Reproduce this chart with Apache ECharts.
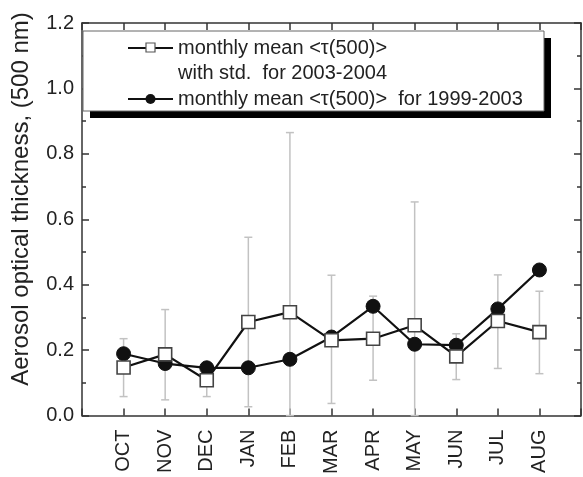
<!DOCTYPE html>
<html><head><meta charset="utf-8">
<script src="https://cdn.jsdelivr.net/npm/echarts@6/dist/echarts.min.js"></script>
<style>html,body{margin:0;padding:0;background:#fff}#c{width:583px;height:477px}</style>
</head><body><div id="c"></div>
<script>
const months = ['OCT','NOV','DEC','JAN','FEB','MAR','APR','MAY','JUN','JUL','AUG'];
const mean0304 = [0.147,0.187,0.108,0.286,0.316,0.230,0.235,0.276,0.181,0.289,0.255];
const stdUpper = [0.235,0.324,0.160,0.545,0.865,0.429,0.365,0.653,0.250,0.430,0.380];
const stdLower = [0.058,0.048,0.058,0.027,0.000,0.037,0.108,0.000,0.110,0.144,0.128];
const mean9903 = [0.189,0.159,0.146,0.146,0.172,0.240,0.334,0.218,0.215,0.326,0.445];
const yTicks = [0.0,0.2,0.4,0.6,0.8,1.0,1.2];
const yTitle = 'Aerosol optical thickness, (500 nm)';
const legendLines = ['monthly mean <\u03c4(500)>','with std.  for 2003-2004','monthly mean <\u03c4(500)>  for 1999-2003'];

const F = 'Liberation Sans, Arial, sans-serif';
const chart = echarts.init(document.getElementById('c'));
const axisLine = {show:true, onZero:false, lineStyle:{color:'#333', width:1.5}};
const tick = {inside:true, length:7, lineStyle:{color:'#333', width:1.5}};
const minor = {show:true, splitNumber:2, length:4, lineStyle:{color:'#333', width:1.5}};
const xPos = months.map((m,i)=>i+1);
const errData = months.map((m,i)=>[i+1, stdLower[i], stdUpper[i]]);

chart.setOption({
  animation:false,
  grid:{left:82, right:2, top:23, bottom:60},
  xAxis:[{
    type:'value', min:0, max:12, interval:1,
    axisLine, splitLine:{show:false},
    axisTick:tick,
    axisLabel:{rotate:90, fontFamily:F, fontSize:20, color:'#222', margin:14,
      formatter:v => (v>=1 && v<=11) ? months[v-1] : ''}
  },{
    type:'value', min:0, max:12, interval:1, position:'top',
    axisLine, splitLine:{show:false},
    axisTick:tick,
    axisLabel:{show:false}
  }],
  yAxis:[{
    type:'value', min:0, max:1.2, interval:0.2,
    axisLine, splitLine:{show:false},
    axisTick:tick, minorTick:minor,
    axisLabel:{fontFamily:F, fontSize:20, color:'#222', margin:8, formatter:v=>v.toFixed(1)}
  },{
    type:'value', min:0, max:1.2, interval:0.2, position:'right',
    axisLine, splitLine:{show:false},
    axisTick:tick, minorTick:minor,
    axisLabel:{show:false}
  }],
  series:[{
    type:'custom', z:1,
    data:errData,
    renderItem:(params, api) => {
      const x = api.value(0);
      const lo = api.coord([x, api.value(1)]);
      const hi = api.coord([x, api.value(2)]);
      const w = 4;
      const st = {stroke:'#c2c2c2', lineWidth:1.5};
      return {type:'group', children:[
        {type:'line', shape:{x1:lo[0], y1:lo[1], x2:hi[0], y2:hi[1]}, style:st},
        {type:'line', shape:{x1:hi[0]-w, y1:hi[1], x2:hi[0]+w, y2:hi[1]}, style:st},
        {type:'line', shape:{x1:lo[0]-w, y1:lo[1], x2:lo[0]+w, y2:lo[1]}, style:st}
      ]};
    }
  },{
    type:'line', z:3, data:xPos.map((x,i)=>[x, mean9903[i]]),
    symbol:'circle', symbolSize:14,
    lineStyle:{color:'#111', width:2.2},
    itemStyle:{color:'#111', borderColor:'#111'}
  },{
    type:'line', z:4, data:xPos.map((x,i)=>[x, mean0304[i]]),
    symbol:'rect', symbolSize:13,
    lineStyle:{color:'#111', width:2.2},
    itemStyle:{color:'#fff', borderColor:'#444', borderWidth:1.6}
  }],
  graphic:[
    {type:'text', x:21, y:199, rotation:Math.PI/2, style:{text:yTitle, font:'24px '+F, fill:'#222', align:'center', verticalAlign:'middle'}},
    {type:'rect', shape:{x:90, y:38, width:461, height:80}, style:{fill:'#000'}, z:10},
    {type:'rect', shape:{x:83, y:31, width:461, height:80}, style:{fill:'#fff', stroke:'#666', lineWidth:1}, z:11},
    {type:'line', shape:{x1:128, y1:48, x2:173, y2:48}, style:{stroke:'#111', lineWidth:2}, z:12},
    {type:'rect', shape:{x:146, y:43, width:9, height:9}, style:{fill:'#fff', stroke:'#555', lineWidth:1.2}, z:13},
    {type:'line', shape:{x1:128, y1:99, x2:173, y2:99}, style:{stroke:'#111', lineWidth:2}, z:12},
    {type:'circle', shape:{cx:150.5, cy:99, r:5}, style:{fill:'#111'}, z:13},
    {type:'text', x:178, y:48, style:{text:legendLines[0], font:'20px '+F, fill:'#222', verticalAlign:'middle'}, z:13},
    {type:'text', x:178, y:73, style:{text:legendLines[1], font:'20px '+F, fill:'#222', verticalAlign:'middle'}, z:13},
    {type:'text', x:178, y:99, style:{text:legendLines[2], font:'20px '+F, fill:'#222', verticalAlign:'middle'}, z:13}
  ]
});
</script></body></html>
